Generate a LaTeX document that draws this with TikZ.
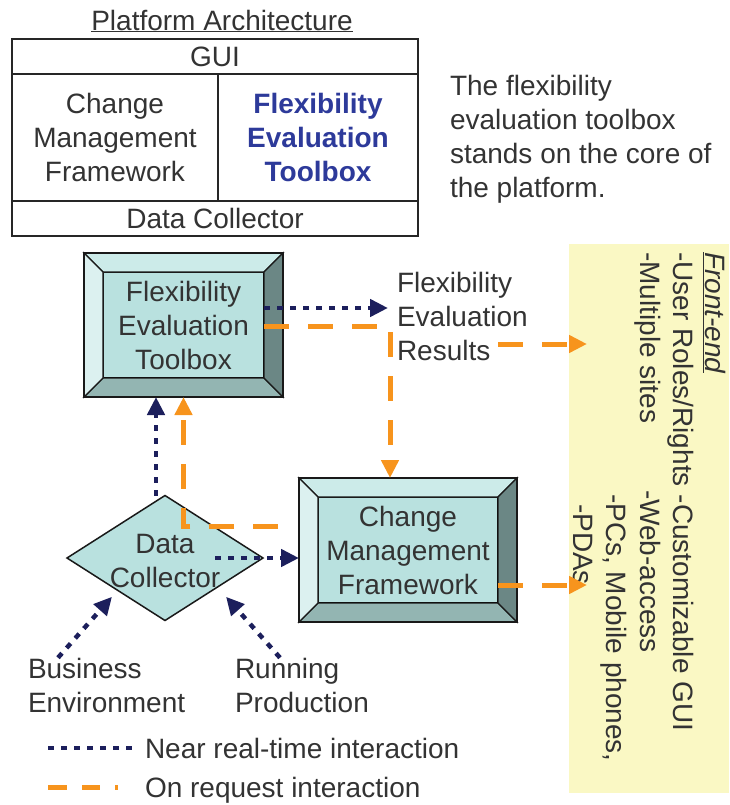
\documentclass[tikz,border=0pt]{standalone}
\usepackage{fontspec}
\setmainfont{Liberation Sans}
\usetikzlibrary{shapes.geometric,arrows.meta,calc}
\definecolor{navyc}{HTML}{1C1F5C}
\definecolor{orangec}{HTML}{F7941D}
\definecolor{txtc}{HTML}{333333}
\definecolor{bluec}{HTML}{2D3A9A}
\definecolor{facec}{HTML}{B9E1DF}
\definecolor{bvtopc}{HTML}{CCEBE9}
\definecolor{bvleftc}{HTML}{DCF1F0}
\definecolor{bvrightc}{HTML}{6B8785}
\definecolor{bvbotc}{HTML}{93B5B2}
\definecolor{yellowc}{HTML}{FAF8C4}
\newcommand{\bevelframe}[1]{%
 \draw[bevelline, fill=bvtopc] (#1.north west) -- (#1.north east) -- ($(#1.north east)+(19,-19)$) -- ($(#1.north west)+(-19,-19)$) -- cycle;
 \draw[bevelline, fill=bvbotc] (#1.south west) -- (#1.south east) -- ($(#1.south east)+(19,19)$) -- ($(#1.south west)+(-19,19)$) -- cycle;
 \draw[bevelline, fill=bvleftc] (#1.north west) -- (#1.south west) -- ($(#1.south west)+(-19,19)$) -- ($(#1.north west)+(-19,-19)$) -- cycle;
 \draw[bevelline, fill=bvrightc] (#1.north east) -- (#1.south east) -- ($(#1.south east)+(19,19)$) -- ($(#1.north east)+(19,-19)$) -- cycle;
 \draw[outerline] ($(#1.north west)+(-19,-19)$) rectangle ($(#1.south east)+(19,19)$);
}
\tikzset{
 txt/.style={font=\fontsize{28}{34}\selectfont, text=txtc, inner sep=0pt, outer sep=0pt},
 cell/.style={txt, draw=black!85, line width=2pt, align=center},
 bevelbox/.style={txt, fill=facec, draw=black, line width=1.5pt, align=center, minimum height=106pt},
 bevelline/.style={draw=black!90, line width=1.3pt, line join=miter},
 outerline/.style={draw=black!90, line width=2pt},
 nrt/.style={draw=navyc, line width=4.5pt, dash pattern=on 6pt off 7pt, -{Triangle[length=18pt,width=17pt]}},
 ondemand/.style={draw=orangec, line width=5pt, dash pattern=on 25pt off 19pt, -{Triangle[length=18pt,width=17pt]}},
 sidetext/.style={txt, rotate=-90, anchor=base west}
}
\begin{document}
\begin{tikzpicture}[x=1pt, y=-1pt]
\useasboundingbox (0,0) rectangle (729,805);
% platform architecture table
\node[txt] (title) at (222,21) {\underline{Platform Architecture}};
\node[cell, minimum width=406pt, minimum height=35pt] (gui) at (215,56.5) {GUI};
\node[cell, minimum width=206pt, minimum height=127pt] (cmfcell) at (115,137.5) {Change\\Management\\Framework};
\node[cell, minimum width=200pt, minimum height=127pt, font=\fontsize{28}{34}\selectfont\bfseries, text=bluec] (fetcell) at (318,137.5) {Flexibility\\Evaluation\\Toolbox};
\node[cell, minimum width=406pt, minimum height=35pt] (dccell) at (215,218.5) {Data Collector};
\node[txt, anchor=west, align=left] (note) at (450,139.5) {The flexibility\\evaluation toolbox\\stands on the core of\\the platform.};
% front-end panel
\node[fill=yellowc, inner sep=0pt, outer sep=0pt, minimum width=160pt, minimum height=549pt, anchor=north west] (front) at (569,244) {};
\node[sidetext] (fe) at (705,252) {\textit{\underline{Front-end}}};
\node[sidetext] (ur) at (673,252) {-User Roles/Rights -Customizable GUI};
\node[sidetext] (ms) at (640,252) {-Multiple sites};
\node[sidetext] (wa) at (640,490) {-Web-access};
\node[sidetext] (pc) at (606,494) {-PCs, Mobile phones,};
\node[sidetext] (pd) at (573,504) {-PDAs};
% bevel boxes
\node[bevelbox, minimum width=161pt] (FET) at (183.5,325) {Flexibility\\Evaluation\\Toolbox};
\bevelframe{FET}
\node[bevelbox, minimum width=180pt] (CMF) at (408,550) {Change\\Management\\Framework};
\bevelframe{CMF}
% data collector
\node[diamond, draw=black!90, line width=1.5pt, fill=facec, minimum width=196pt, minimum height=125pt, inner sep=0pt, outer sep=0pt] (DC) at (165,558) {};
\node[txt, align=center] (dctext) at (165,561) {Data\\Collector};
% other labels
\node[txt, anchor=west, align=left] (res) at (397,316.5) {Flexibility\\Evaluation\\Results};
\node[txt, anchor=west, align=left] (bus) at (28,685) {Business\\Environment};
\node[txt, anchor=west, align=left] (run) at (235,685) {Running\\Production};
% connectors
\draw[nrt] ([yshift=17pt]FET.east) -- ([xshift=-9pt,yshift=8.5pt]res.west);
\draw[ondemand] ([yshift=-1pt]FET.east) -| ([xshift=-18pt,yshift=19pt]CMF.north);
\draw[ondemand] ([xshift=101pt,yshift=-27.5pt]res.west) -- ++(89,0);
\draw[ondemand] ([yshift=-35pt]CMF.east) -- ++(89,0);
\draw[ondemand] ([xshift=-40pt,yshift=24pt]CMF.west) -| ([yshift=-19pt]FET.south);
\draw[nrt] ([xshift=-27.5pt]FET.south |- DC.north) -- ([xshift=-27.5pt,yshift=-19pt]FET.south);
\draw[nrt] ([xshift=50pt]DC.center) -- ([xshift=-19pt]CMF.west |- DC.center);
\draw[nrt] ([xshift=30pt]bus.north west) -- ([xshift=-4pt,yshift=-7.5pt]DC.south west);
\draw[nrt] ([xshift=45pt]run.north west) -- ([xshift=12pt,yshift=-7.5pt]DC.south east);
% legend
\node[txt, anchor=west] (l1) at (145,748) {Near real-time interaction};
\node[txt, anchor=west] (l2) at (145,790) {On request interaction};
\draw[navyc, line width=4.5pt, dash pattern=on 6pt off 7pt] ([xshift=-97pt]l1.west) -- ([xshift=-7pt]l1.west);
\draw[orangec, line width=5pt, dash pattern=on 19pt off 15pt on 18pt off 15pt on 3pt off 50pt] ([xshift=-97pt,yshift=3pt]l2.west) -- ([xshift=-27pt,yshift=3pt]l2.west);
\end{tikzpicture}
\end{document}
